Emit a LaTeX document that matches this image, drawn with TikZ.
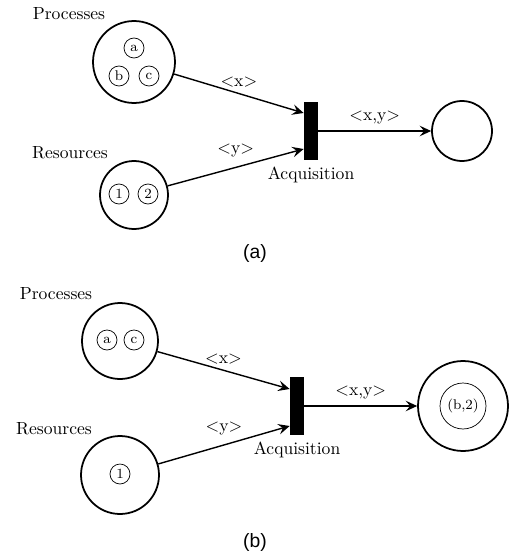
\documentclass[tikz,border=0pt]{standalone}
\usepackage{fontspec}
\newfontfamily\capfont{Liberation Sans}
\usetikzlibrary{arrows,arrows.meta,shapes}

\begin{document}
\begin{tikzpicture}[x=0.02cm,y=-0.02cm,
        place/.style={circle,draw,line width=1pt,inner sep=0pt},
        token/.style={circle,draw,inner sep=0pt,minimum size=0.4cm,font=\footnotesize},
        bar/.style={rectangle,fill=black,inner sep=0pt,minimum width=0.28cm,minimum height=1.16cm},
        arc/.style={thick,-{Stealth[length=6.5pt,width=6pt,inset=2.5pt]}}]
            \useasboundingbox (0,0) rectangle (510,554);
            % (a) before firing
            \node (lblProcA) at (69,14){Processes};
            \node (procA)[place,minimum size=1.64cm] at (134,62){};
            \node (tokA)[token] at (134,48){a};
            \node (tokB)[token] at (119,76){b};
            \node (tokC)[token] at (149,76){c};
            \node (lblResA) at (70,153){Resources};
            \node (resA)[place,minimum size=1.36cm] at (134,195){};
            \foreach \i/\x in {1/119,2/148}{
                \node (tokR\i)[token] at (\x,194){\i};
            }
            \node (transA)[bar] at (311,131){};
            \node (lblTransA)[below] at (transA.south){Acquisition};
            \node (outA)[place,minimum size=1.2cm] at (462,131){};
            \draw[arc] (procA)--([yshift=0.36cm]transA.west) node[midway,above]{\(<\)x\(>\)};
            \draw[arc] (resA)--([yshift=-0.36cm]transA.west) node[midway,above=2pt]{\(<\)y\(>\)};
            \draw[arc] (transA)--(outA) node[midway,above]{\(<\)x,y\(>\)};
            \node (capA) at (255,253){\capfont\fontsize{11}{13}\selectfont (a)};
            % (b) after firing
            \node (lblProcB) at (56,294){Processes};
            \node (procB)[place,minimum size=1.52cm] at (120,341){};
            \node (tokAb)[token] at (107,340){a};
            \node (tokCb)[token] at (134,340){c};
            \node (lblResB) at (54,429){Resources};
            \node (resB)[place,minimum size=1.56cm] at (120,475){};
            \node (tokR1b)[token] at (120,474){1};
            \node (transB)[bar] at (297,406){};
            \node (lblTransB)[below] at (transB.south){Acquisition};
            \node (outB)[place,minimum size=1.8cm] at (463,406){};
            \node (tokOut)[token,minimum size=0.92cm] at (463,406){(b,2)};
            \draw[arc] (procB)--([yshift=0.34cm]transB.west) node[midway,above]{\(<\)x\(>\)};
            \draw[arc] (resB)--([yshift=-0.40cm]transB.west) node[midway,above=2pt]{\(<\)y\(>\)};
            \draw[arc] (transB)--(outB) node[midway,above]{\(<\)x,y\(>\)};
            \node (capB) at (255,542){\capfont\fontsize{11}{13}\selectfont (b)};
        \end{tikzpicture}
\end{document}
